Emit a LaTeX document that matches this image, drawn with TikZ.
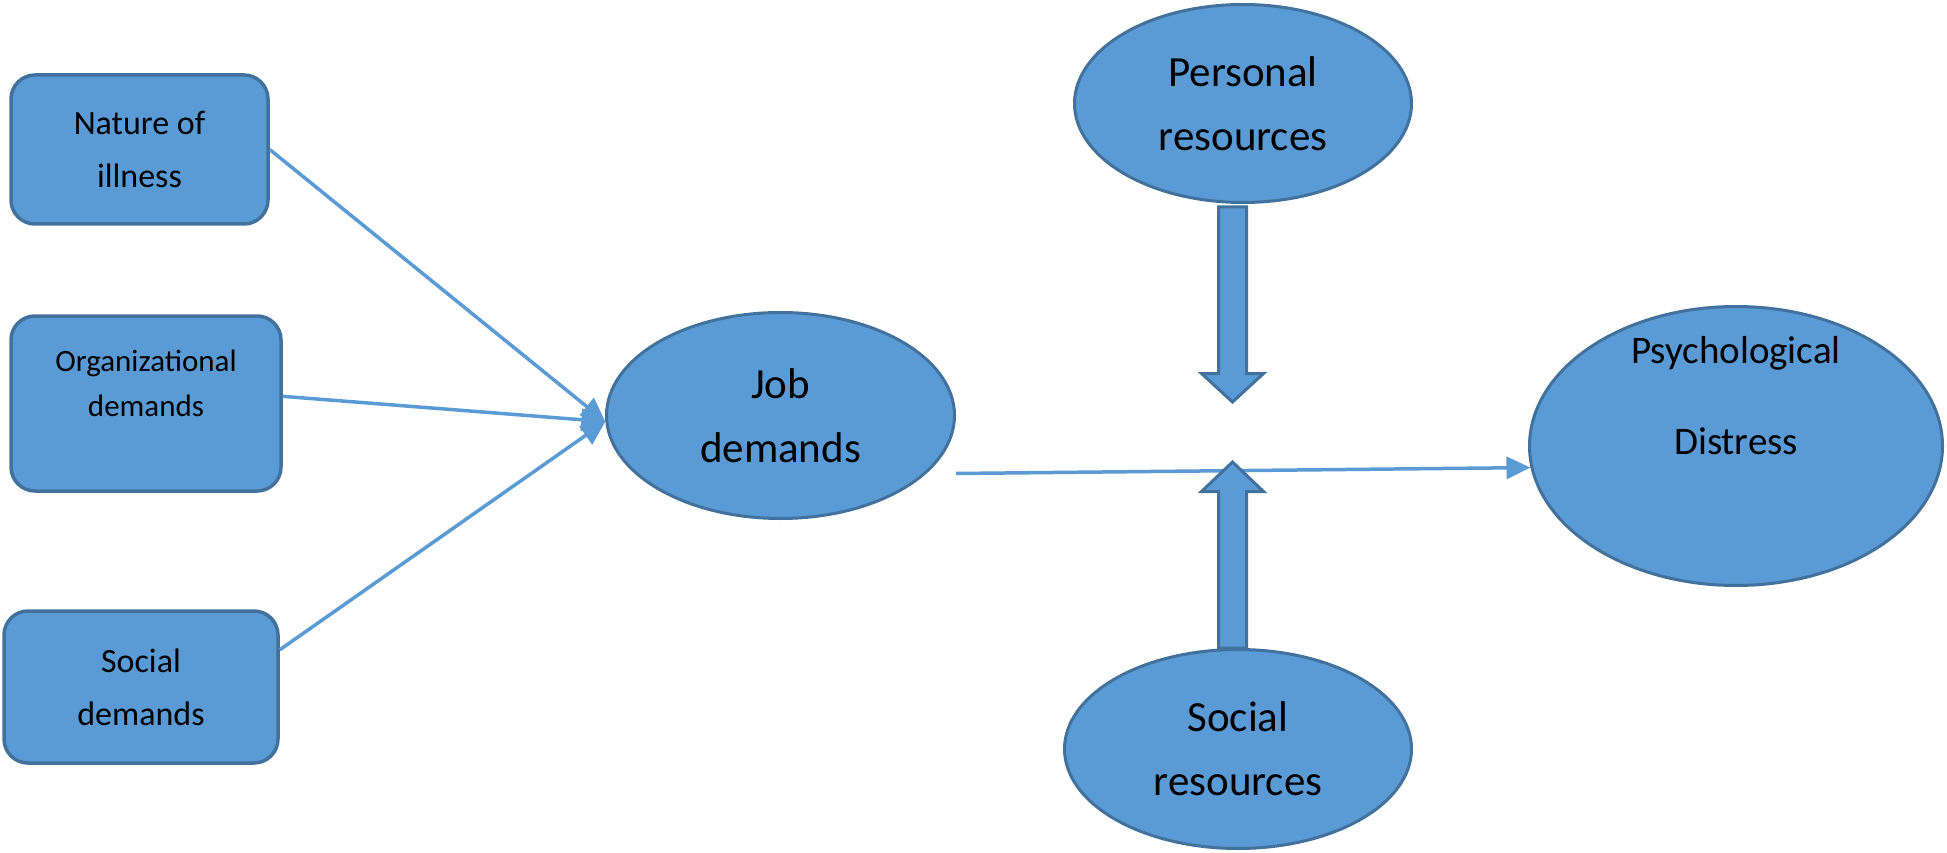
\documentclass[tikz,border=0pt]{standalone}
\usepackage{fontspec}
\setmainfont{Carlito}
\usepackage{tikz}
\usetikzlibrary{shapes.geometric, arrows.meta, calc}
\definecolor{jdfill}{HTML}{5B9BD5}
\definecolor{jdedge}{HTML}{41719C}
\tikzset{
  %% Rounded box for a demand
  dbox/.style={
    rectangle, rounded corners=24pt,
    draw=jdedge, fill=jdfill,
    text centered, align=center, inner sep=0pt,
    line width=3.5pt,
    font=\fontsize{34}{53}\selectfont
  },
  %% Ellipse for a factor
  fell/.style={
    ellipse, draw=jdedge, fill=jdfill,
    text centered, align=center, inner sep=0pt,
    line width=3pt,
    font=\fontsize{43}{64}\selectfont
  },
  %% Thin arrow
  arr/.style={-{Triangle[length=24pt,width=22pt]},
              draw=jdfill, line width=3.5pt},
  %% Block arrow
  barr/.style={draw=jdedge, fill=jdfill, line width=3pt,
               line join=miter},
}

\begin{document}
\begin{tikzpicture}[x=1pt, y=-1pt]
  \useasboundingbox (0,0) rectangle (1947,853);

  %% Demands
  \node[dbox, minimum width=257pt, minimum height=149pt]
       (nature) at (139.5,149.5) {Nature of\\illness};
  \node[dbox, minimum width=270pt, minimum height=175pt]
       (org) at (146,403.5) {};
  \node[font=\fontsize{31}{45}\selectfont, align=center]
       (orgtext) at ($(org.center)+(0,-20)$) {Organizational\\demands};
  \node[dbox, minimum width=274pt, minimum height=152pt]
       (soc) at (141,687) {Social\\demands};

  %% Factors
  \node[fell, minimum width=348pt, minimum height=206pt]
       (job) at (780.5,415.5) {Job\\demands};
  \node[fell, minimum width=337pt, minimum height=198pt]
       (pers) at (1243,103.5) {Personal\\resources};
  \node[fell, minimum width=347pt, minimum height=199pt]
       (socres) at (1238,749) {Social\\resources};
  \node[fell, minimum width=413pt, minimum height=279pt]
       (psych) at (1736,446) {};
  \node[font=\fontsize{39}{91}\selectfont, align=center]
       (psychtext) at ($(psych.center)+(0,-50)$) {Psychological\\Distress};

  %% Links
  \foreach \src in {nature.east, org.3, soc.15}
    \draw[arr] (\src) -- (job.182);
  \coordinate (modstart) at ($(job.east)+(0,58)$);
  \draw[arr] (modstart) -- (psych.186);

  %% Block arrows
  \coordinate (dtip) at (1232.5,402);
  \coordinate (utip) at (1232.5,462);
  \draw[barr] ($(dtip |- pers.south)+(-14,3)$) -- ($(dtip)+(-14,-28.5)$)
    -- ($(dtip)+(-31,-28.5)$) -- (dtip) -- ($(dtip)+(31,-28.5)$)
    -- ($(dtip)+(14,-28.5)$) -- ($(dtip |- pers.south)+(14,3)$) -- cycle;
  \draw[barr] ($(utip |- socres.north)+(-14,0)$) -- ($(utip)+(-14,29.5)$)
    -- ($(utip)+(-31,29.5)$) -- (utip) -- ($(utip)+(31,29.5)$)
    -- ($(utip)+(14,29.5)$) -- ($(utip |- socres.north)+(14,0)$) -- cycle;

\end{tikzpicture}
\end{document}
